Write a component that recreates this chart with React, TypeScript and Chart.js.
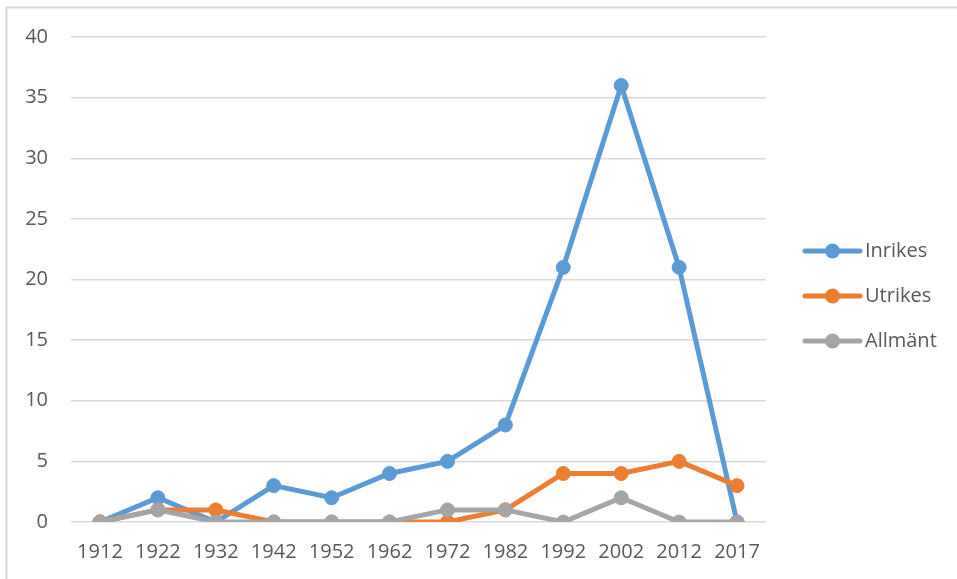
import React, { useEffect, useRef } from "react";
import { Chart, registerables } from "chart.js";

Chart.register(...registerables);

const categories = ["1912", "1922", "1932", "1942", "1952", "1962", "1972", "1982", "1992", "2002", "2012", "2017"];
const inrikes = [0, 2, 0, 3, 2, 4, 5, 8, 21, 36, 21, 0];
const utrikes = [0, 1, 1, 0, 0, 0, 0, 1, 4, 4, 5, 3];
const allmant = [0, 1, 0, 0, 0, 0, 1, 1, 0, 2, 0, 0];
const seriesNames = ["Inrikes", "Utrikes", "Allmänt"];
const seriesColors = ["#5B9BD5", "#ED7D31", "#A5A5A5"];

const FONT = "'Open Sans', 'Liberation Sans', sans-serif";
const TEXT = "#595959";

const customLegend = {
  id: "customLegend",
  afterDraw(chart: any) {
    const ctx = chart.ctx;
    const area = chart.chartArea;
    const x0 = area.right + 39;
    const lineLen = 55;
    const ys = [251, 296, 341];
    ctx.save();
    chart.data.datasets.forEach((ds: any, i: number) => {
      const y = ys[i];
      ctx.strokeStyle = ds.borderColor;
      ctx.lineWidth = 5;
      ctx.lineCap = "round";
      ctx.beginPath();
      ctx.moveTo(x0, y);
      ctx.lineTo(x0 + lineLen, y);
      ctx.stroke();
      ctx.fillStyle = ds.borderColor;
      ctx.beginPath();
      ctx.arc(x0 + lineLen / 2, y, 7.5, 0, Math.PI * 2);
      ctx.fill();
      ctx.fillStyle = TEXT;
      ctx.font = `20px ${FONT}`;
      ctx.textBaseline = "middle";
      ctx.textAlign = "left";
      ctx.fillText(ds.label, x0 + lineLen + 5, y);
    });
    // frame lines (top and left)
    ctx.strokeStyle = "#D9D9D9";
    ctx.lineWidth = 2;
    ctx.lineCap = "butt";
    ctx.beginPath();
    ctx.moveTo(6.5, 579);
    ctx.lineTo(6.5, 7.5);
    ctx.lineTo(957, 7.5);
    ctx.stroke();
    ctx.restore();
  },
};

export default function App() {
  const ref = useRef<HTMLCanvasElement | null>(null);

  useEffect(() => {
    document.body.style.margin = "0";
    const canvas = ref.current;
    if (!canvas) return;
    const values = [inrikes, utrikes, allmant];
    const chart = new Chart(canvas, {
      type: "line",
      data: {
        labels: categories,
        datasets: values.map((v, i) => ({
          label: seriesNames[i],
          data: v,
          borderColor: seriesColors[i],
          backgroundColor: seriesColors[i],
          pointBackgroundColor: seriesColors[i],
          pointBorderColor: seriesColors[i],
          borderWidth: 5,
          pointRadius: 7,
          pointBorderWidth: 1,
          tension: 0,
          fill: false,
          order: 2 - i,
        })),
      },
      options: {
        responsive: false,
        animation: false,
        layout: { padding: { left: 0, top: 37, right: 191, bottom: 0 } },
        plugins: {
          legend: { display: false },
          tooltip: { enabled: false },
        },
        scales: {
          x: {
            offset: true,
            grid: { display: false, drawTicks: false },
            border: { display: false },
            ticks: {
              color: TEXT,
              font: { family: FONT, size: 20 },
              padding: 18,
              maxRotation: 0,
              autoSkip: false,
            },
            afterFit(scale: any) {
              scale.height = 57;
            },
          },
          y: {
            min: 0,
            max: 40,
            grid: { color: "#D9D9D9", lineWidth: 1.5, drawTicks: false },
            border: { display: false },
            ticks: {
              stepSize: 5,
              color: TEXT,
              font: { family: FONT, size: 20 },
              padding: 23,
            },
            afterFit(scale: any) {
              scale.width = 71;
            },
          },
        },
      },
      plugins: [customLegend],
    });
    return () => chart.destroy();
  }, []);

  return (
    <div style={{ position: "relative", width: 957, height: 579, background: "#fff" }}>
      <canvas ref={ref} width={957} height={579} style={{ display: "block" }} />
    </div>
  );
}
